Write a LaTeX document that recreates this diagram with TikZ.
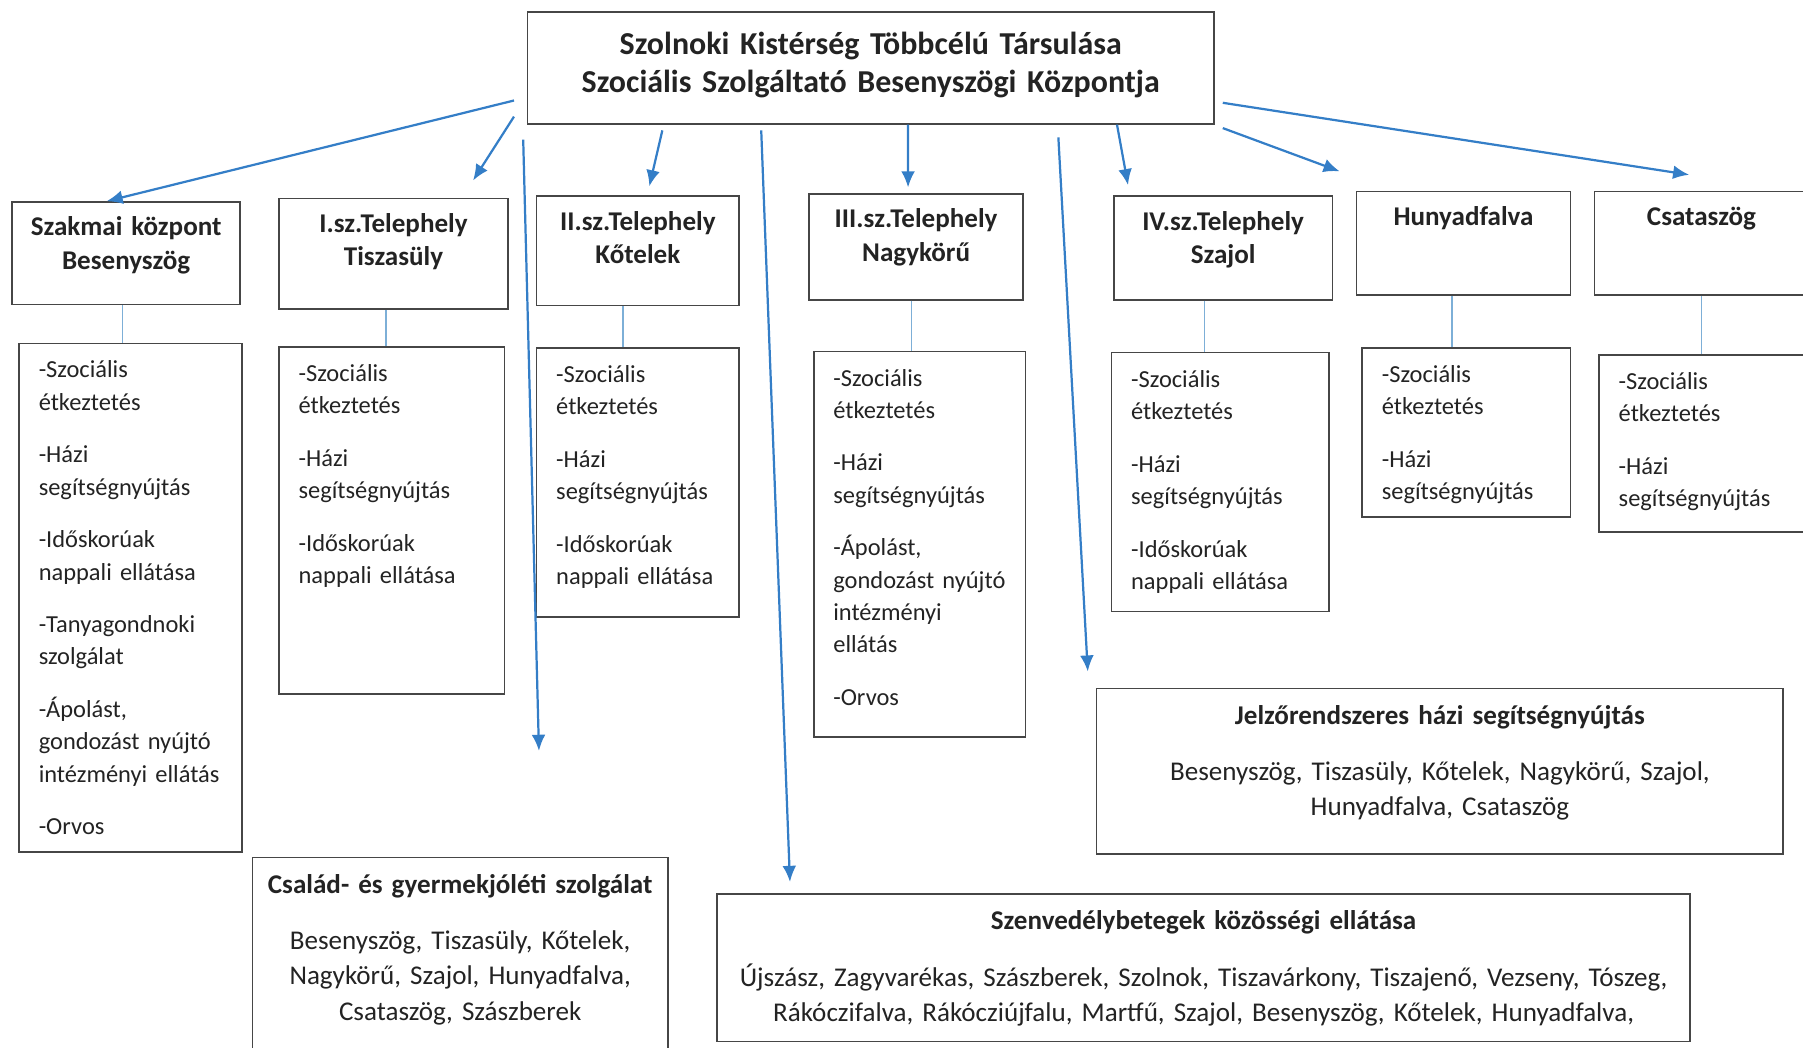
\documentclass[tikz,border=0pt]{standalone}
\usepackage{fontspec}
\setmainfont{Carlito}
\usetikzlibrary{arrows.meta}
\definecolor{arrblue}{RGB}{52,126,199}
\definecolor{linkblue}{RGB}{125,175,215}
\definecolor{boxgray}{RGB}{70,70,70}
\definecolor{ink}{RGB}{35,35,35}
\begin{document}
\begin{tikzpicture}[>={Latex[length=0.28cm,width=0.24cm]},
	arr/.style={->, draw=arrblue, line width=1.1pt},
	link/.style={draw=linkblue, line width=0.6pt},
	box/.style={draw=boxgray, line width=0.8pt, anchor=north west, text=ink},
	hdr/.style={box, align=center, inner xsep=0.1cm, inner ysep=0.29cm, text height=0.30cm, font=\bfseries\fontsize{13.4}{16.5}\selectfont},
	lst/.style={box, align=left, inner xsep=0.34cm, inner ysep=0.30cm, text height=0.30cm, font=\fontsize{12.1}{15.9}\selectfont},
	grp/.style={box, align=center, inner xsep=0.2cm, inner ysep=0.30cm, text height=0.32cm, font=\fontsize{13.4}{17.6}\selectfont}]
	\useasboundingbox (0,0) rectangle (31.36,-18.22);
	% top
	\node[box, align=center, inner xsep=0.2cm, inner ysep=0.30cm, text width=11.54cm, text height=0.43cm, text depth=0.91cm, font=\bfseries\fontsize{15.8}{18.8}\selectfont] (top) at (9.16,-0.20) {Szolnoki Kistérség Többcélú Társulása\\Szociális Szolgáltató Besenyszögi Központja};
	% telephelyek
	\node[hdr, text width=3.76cm, text depth=0.90cm] (h1) at (0.20,-3.50) {Szakmai központ\\Besenyszög};
	\node[hdr, text width=3.78cm, text depth=1.04cm] (h2) at (4.84,-3.44) {I.sz.Telephely\\Tiszasüly};
	\node[hdr, text width=3.32cm, text depth=1.02cm] (h3) at (9.32,-3.40) {II.sz.Telephely\\Kőtelek};
	\node[hdr, text width=3.52cm, text depth=0.96cm] (h4) at (14.06,-3.36) {III.sz.Telephely\\Nagykörű};
	\node[hdr, text width=3.60cm, text depth=0.92cm] (h5) at (19.36,-3.40) {IV.sz.Telephely\\Szajol};
	\node[hdr, text width=3.52cm, text depth=0.92cm] (h6) at (23.58,-3.32) {Hunyadfalva};
	\node[hdr, text width=3.52cm, text depth=0.92cm] (h7) at (27.72,-3.32) {Csataszög};
	% feladatok
	\node[lst, text width=3.20cm, text depth=7.94cm] (l1) at (0.32,-5.96) {-Szociális\\étkeztetés\\[0.36cm]-Házi\\segítségnyújtás\\[0.36cm]-Időskorúak\\nappali ellátása\\[0.36cm]-Tanyagondnoki\\szolgálat\\[0.36cm]-Ápolást,\\gondozást nyújtó\\intézményi ellátás\\[0.36cm]-Orvos};
	\node[lst, text width=3.24cm, text depth=5.14cm] (l2) at (4.84,-6.02) {-Szociális\\étkeztetés\\[0.36cm]-Házi\\segítségnyújtás\\[0.36cm]-Időskorúak\\nappali ellátása};
	\node[lst, text width=2.84cm, text depth=3.78cm] (l3) at (9.32,-6.04) {-Szociális\\étkeztetés\\[0.36cm]-Házi\\segítségnyújtás\\[0.36cm]-Időskorúak\\nappali ellátása};
	\node[lst, text width=3.00cm, text depth=5.80cm] (l4) at (14.14,-6.10) {-Szociális\\étkeztetés\\[0.36cm]-Házi\\segítségnyújtás\\[0.36cm]-Ápolást,\\gondozást nyújtó\\intézményi\\ellátás\\[0.36cm]-Orvos};
	\node[lst, text width=3.10cm, text depth=3.60cm] (l5) at (19.32,-6.12) {-Szociális\\étkeztetés\\[0.36cm]-Házi\\segítségnyújtás\\[0.36cm]-Időskorúak\\nappali ellátása};
	\node[lst, text width=2.94cm, text depth=2.04cm] (l6) at (23.68,-6.04) {-Szociális\\étkeztetés\\[0.36cm]-Házi\\segítségnyújtás};
	\node[lst, text width=2.96cm, text depth=2.18cm] (l7) at (27.80,-6.16) {-Szociális\\étkeztetés\\[0.36cm]-Házi\\segítségnyújtás};
	% kozos szolgaltatasok
	\node[grp, text width=11.54cm, text depth=1.96cm] (jel) at (19.06,-11.96) {\textbf{Jelzőrendszeres házi segítségnyújtás}\\[0.36cm]Besenyszög, Tiszasüly, Kőtelek, Nagykörű, Szajol,\\Hunyadfalva, Csataszög};
	\node[grp, text width=6.82cm, text depth=2.58cm] (csal) at (4.38,-14.90) {\textbf{Család- és gyermekjóléti szolgálat}\\[0.36cm]Besenyszög, Tiszasüly, Kőtelek,\\Nagykörű, Szajol, Hunyadfalva,\\Csataszög, Szászberek};
	\node[grp, text width=16.52cm, text depth=1.64cm] (szenv) at (12.46,-15.54) {\textbf{Szenvedélybetegek közösségi ellátása}\\[0.36cm]Újszász, Zagyvarékas, Szászberek, Szolnok, Tiszavárkony, Tiszajenő, Vezseny, Tószeg,\\Rákóczifalva, Rákócziújfalu, Martfű, Szajol, Besenyszög, Kőtelek, Hunyadfalva,};
	% nyilak
	\draw[arr] ([shift={(-0.22,0.42)}]top.south west) -- ([xshift=-0.34cm]h1.north);
	\draw[arr] ([shift={(-0.22,0.14)}]top.south west) -- ([shift={(-0.62,0.30)}]h2.north east);
	\draw[arr] ([shift={(-0.06,-0.26)}]top.south west) -- ([shift={(1.37,1.84)}]csal.north);
	\draw[arr] ([shift={(2.36,-0.10)}]top.south west) -- ([shift={(0.20,0.16)}]h3.north);
	\draw[arr] ([shift={(4.08,-0.10)}]top.south west) -- ([shift={(1.28,0.20)}]szenv.north west);
	\draw[arr] ([xshift=0.65cm]top.south) -- ([shift={(-0.14,0.10)}]h4.north);
	\draw[arr] ([shift={(-2.72,-0.22)}]top.south east) -- ([shift={(-0.14,0.28)}]jel.north west);
	\draw[arr] ([xshift=-1.70cm]top.south east) -- ([shift={(0.26,0.18)}]h5.north west);
	\draw[arr] ([shift={(0.14,-0.06)}]top.south east) -- ([shift={(-0.28,0.34)}]h6.north west);
	\draw[arr] ([shift={(0.14,0.38)}]top.south east) -- ([shift={(1.66,0.28)}]h7.north west);
	% vonalak
	\draw[link] ([xshift=-0.06cm]h1.south) -- ([xshift=-0.06cm]h1.south |- l1.north);
	\draw[link] ([xshift=-0.13cm]h2.south) -- ([xshift=-0.13cm]h2.south |- l2.north);
	\draw[link] ([xshift=-0.26cm]h3.south) -- ([xshift=-0.26cm]h3.south |- l3.north);
	\draw[link] ([xshift=-0.08cm]h4.south) -- ([xshift=-0.08cm]h4.south |- l4.north);
	\draw[link] ([xshift=-0.32cm]h5.south) -- ([xshift=-0.32cm]h5.south |- l5.north);
	\draw[link] ([xshift=-0.20cm]h6.south) -- ([xshift=-0.20cm]h6.south |- l6.north);
	\draw[link] (h7.south) -- (h7.south |- l7.north);
\end{tikzpicture}
\end{document}
